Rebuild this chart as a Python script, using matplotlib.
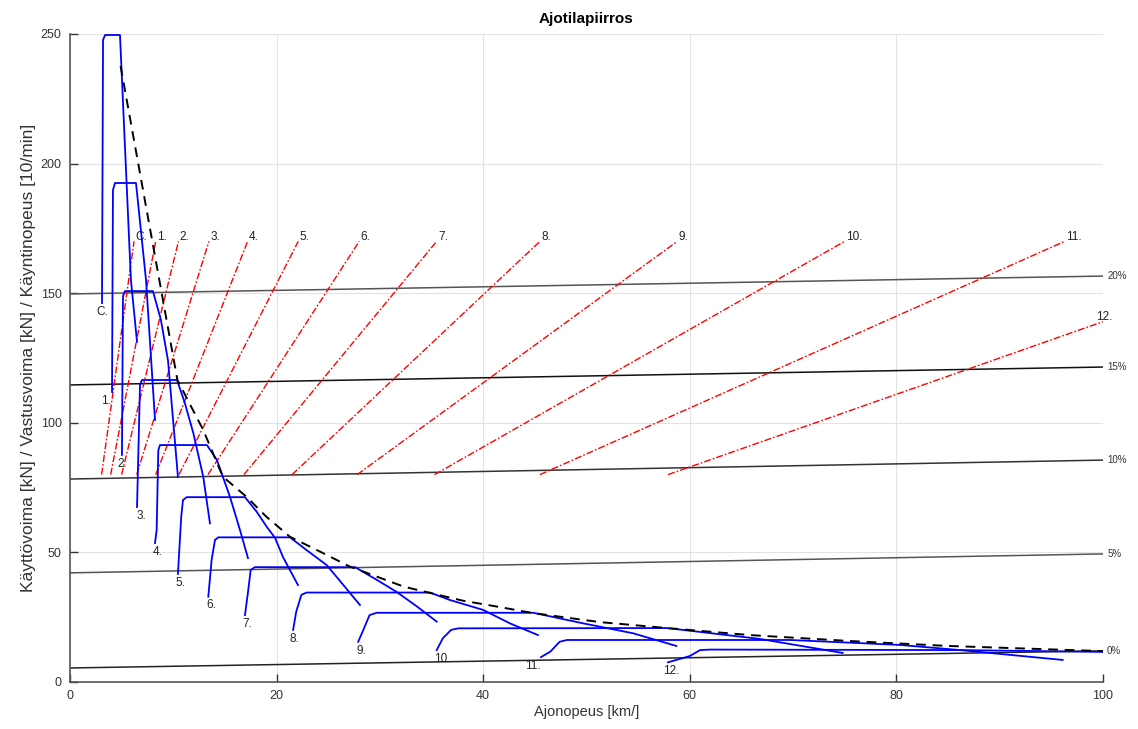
import matplotlib
matplotlib.use('Agg')
import matplotlib.pyplot as plt

plt.rcParams['font.family'] = ['Liberation Sans', 'DejaVu Sans']

# vaihteet
vaihteet = ['C.', '1.', '2.', '3.', '4.', '5.', '6.', '7.', '8.', '9.', '10.', '11.', '12.']

# käyttövoima per vaihde (nopeus km/h, voima kN)
nopeus = [
    [3.10, 3.2, 3.4, 4.84, 5.9, 6.49],
    [4.07, 4.16, 4.36, 6.39, 7.36, 8.23],
    [5.03, 5.13, 5.32, 8.03, 8.8, 9.49, 10.45],
    [6.49, 6.78, 6.97, 10.36, 11.13, 11.94, 12.9, 13.55],
    [8.23, 8.39, 8.55, 8.71, 13.26, 14.23, 15.49, 16.46, 17.23],
    [10.45, 10.77, 10.94, 11.3, 16.94, 18.07, 19.04, 19.85, 20.62, 22.07],
    [13.39, 13.71, 14.04, 14.36, 21.3, 22.9, 24.85, 25.8, 28.07],
    [16.94, 17.26, 17.49, 17.9, 27.6, 29.7, 31.6, 33.6, 35.5],
    [21.6, 21.9, 22.4, 22.9, 34.85, 36.8, 40.0, 42.6, 45.3],
    [27.9, 28.4, 29.0, 29.7, 44.85, 49.7, 54.5, 58.7],
    [35.5, 36.1, 36.9, 37.6, 57.8, 66.8, 74.8],
    [45.6, 46.5, 47.4, 48.1, 69.7, 80.3, 86.2, 96.1],
    [57.9, 60.0, 61.0, 61.95, 86.2, 100.0],
]
voima = [
    [146.2, 247.7, 249.6, 249.6, 155.0, 131.2],
    [111.9, 189.8, 192.5, 192.5, 155.1, 101.1],
    [87.6, 148.9, 150.8, 150.8, 139.7, 124.0, 79.1],
    [67.5, 114.6, 116.5, 116.5, 107.5, 96.0, 79.2, 61.2],
    [53.6, 58.6, 89.4, 91.4, 91.4, 85.6, 71.4, 58.6, 47.8],
    [41.7, 63.8, 70.2, 71.3, 71.3, 65.7, 59.9, 55.6, 48.2, 37.4],
    [32.9, 47.1, 54.8, 55.8, 55.8, 50.9, 45.1, 40.6, 29.7],
    [25.8, 35.5, 43.2, 44.3, 44.3, 39.4, 34.8, 29.1, 23.3],
    [20.1, 27.1, 33.6, 34.5, 34.5, 31.6, 27.8, 22.6, 18.1],
    [15.5, 20.1, 25.8, 26.7, 26.7, 22.6, 18.8, 13.9],
    [12.3, 16.9, 20.1, 20.7, 20.8, 16.6, 11.2],
    [9.6, 11.7, 15.5, 16.2, 16.2, 14.3, 12.3, 8.5],
    [7.6, 10.0, 12.3, 12.5, 12.3, 11.6],
]

# ideaalinen käyttövoima (katkoviiva)
ideaali_v = [4.9, 10.4, 12.9, 14.8, 17.1, 19.0, 21.3, 23.9, 27.1, 32.3, 34.8, 38.0,
             41.6, 44.8, 51.3, 57.8, 65.8, 75.5, 85.0, 100.0]
ideaali_F = [237.6, 116.5, 97.2, 79.2, 71.4, 63.8, 56.0, 50.9, 44.5, 36.8, 34.4, 31.4,
             28.9, 26.6, 23.1, 20.8, 18.1, 15.8, 13.9, 11.9]

# käyntinopeus [10/min] per vaihde
kierros_v_ala = [3.06, 3.94, 5.0, 6.46, 8.3, 10.55, 13.36, 16.84, 21.5, 27.8, 35.3, 45.5, 57.9]
kierros_v_yla = [6.2, 8.3, 10.5, 13.45, 17.2, 22.1, 28.0, 35.5, 45.5, 58.8, 75.0, 96.3, 100.0]
kierros_ala = [80] * 13
kierros_yla = [170] * 12 + [139]

# vastusvoima eri nousuilla
nousut = ['0%', '5%', '10%', '15%', '20%']
vastus_0 = [5.4, 42.1, 78.3, 114.6, 149.7]
vastus_100 = [12.0, 49.4, 85.6, 121.5, 156.6]
nousu_varit = ['#222222', '#555555', '#333333', '#111111', '#555555']

fig = plt.figure(figsize=(11.38, 7.29), dpi=100)
ax = fig.add_axes([0.0615, 0.0645, 0.9077, 0.8889])

for i in range(len(nousut)):
    ax.plot([0, 100], [vastus_0[i], vastus_100[i]], color=nousu_varit[i], lw=1.1, zorder=2)
    ax.annotate(nousut[i], (100, vastus_100[i]), xytext=(3, 0), textcoords='offset points',
                fontsize=7, va='center', ha='left', color='#333333', annotation_clip=False)

for i in range(len(vaihteet)):
    ax.plot([kierros_v_ala[i], kierros_v_yla[i]], [kierros_ala[i], kierros_yla[i]],
            color='red', lw=1.0, dashes=(5, 1.5, 1.2, 1.5), zorder=3)
    ha = 'center' if kierros_v_yla[i] >= 100 else 'left'
    ax.annotate(vaihteet[i], (kierros_v_yla[i], kierros_yla[i]), xytext=(1, -1),
                textcoords='offset points', fontsize=8.5, ha=ha, va='bottom',
                color='#222222', annotation_clip=False)

for i in range(len(vaihteet)):
    ax.plot(nopeus[i], voima[i], color='blue', lw=1.3, zorder=4)

ax.plot(ideaali_v, ideaali_F, color='black', lw=1.4, dashes=(5, 3.5), zorder=5)

# vaihteiden nimet käyrien alkuun
lbl_dx = [0, -4, 0, 3, 2, 2, 2, 2, 1, 2, 4, -6, 2]
for i in range(len(vaihteet)):
    ax.annotate(vaihteet[i], (nopeus[i][0], voima[i][0]), xytext=(lbl_dx[i], -2),
                textcoords='offset points', fontsize=8.5, ha='center', va='top', color='#222222')

ax.set_xlim(0, 100)
ax.set_ylim(0, 250)
ax.set_xticks([0, 20, 40, 60, 80, 100])
ax.set_yticks([0, 50, 100, 150, 200, 250])
ax.grid(color='#e2e2e2', lw=0.8)
ax.set_axisbelow(True)
ax.tick_params(direction='in', length=6, width=1, labelsize=9, colors='#333333', pad=6)
for s in ['top', 'right']:
    ax.spines[s].set_visible(False)
for s in ['left', 'bottom']:
    ax.spines[s].set_color('#555555')
    ax.spines[s].set_linewidth(1.2)

ax.set_xlabel('Ajonopeus [km/]', fontsize=10.5, color='#333333', labelpad=2)
ax.set_ylabel('Käyttövoima [kN] / Vastusvoima [kN] / Käyntinopeus [10/min]', fontsize=12.5,
              color='#333333', labelpad=3)
ax.set_title('Ajotilapiirros', fontsize=11, fontweight='bold',
             family=['Liberation Sans Narrow', 'Liberation Sans', 'DejaVu Sans'], pad=8)

fig.savefig('out.png', dpi=100)
